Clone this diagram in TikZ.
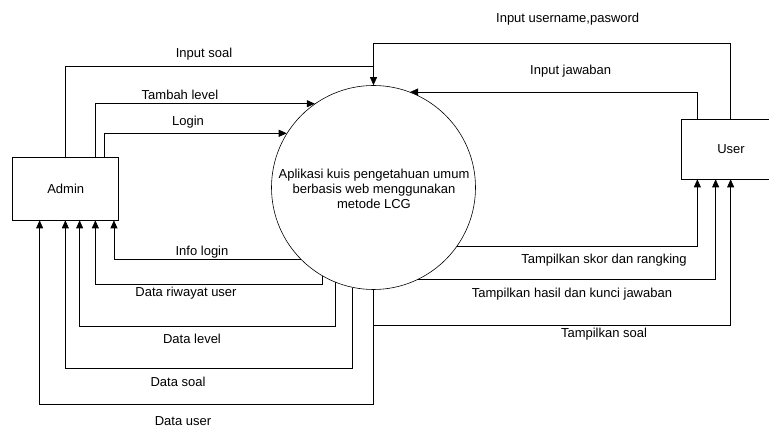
\documentclass[tikz,border=0pt]{standalone}
\usepackage{fontspec}
\setmainfont{Liberation Sans}
\usetikzlibrary{arrows.meta}
\begin{document}
\begin{tikzpicture}[x=1pt,y=-1pt,
  every node/.style={font=\fontsize{13}{15}\selectfont},
  arr/.style={draw,line width=0.7pt,-{Triangle[length=8pt,width=7pt]}},
  ln/.style={draw,line width=0.7pt},
  ent/.style={draw,line width=0.7pt,rectangle,inner sep=0pt},
  lbl/.style={inner sep=1pt}]
\useasboundingbox (0,0) rectangle (769,430);
\node[ent,minimum width=106pt,minimum height=63pt] (Admin) at (65.7,188.5) {Admin};
\node[ent,minimum width=100pt,minimum height=60pt] (User) at (731,149) {User};
\node[draw,circle,line width=0.6pt,minimum size=204pt,inner sep=0pt] (P) at (373.5,187.5) {};
\node[align=center] (Ptxt) at (374,189) {Aplikasi kuis pengetahuan umum\\berbasis web menggunakan\\metode LCG};
% inputs
\draw[ln] ([xshift=53pt]Admin.north west) |- (P.north |- 0,66.7);
\draw[arr] ([xshift=50pt]User.north west) |- (P.north |- 0,43.3) -- (P.north);
\draw[arr] ([xshift=83pt]Admin.north west) |- (P.125);
\draw[arr] ([xshift=92.3pt]Admin.north west) |- (P.148);
\draw[arr] ([xshift=16.7pt]User.north west) |- (P.69);
% outputs to Admin
\draw[arr] (P.225) -| ([xshift=101.6pt]Admin.south west);
\draw[arr] (P.240) -- (P.240 |- 0,284.3) -| ([xshift=83pt]Admin.south west);
\draw[arr] (P.248) -- (P.248 |- 0,326) -| ([xshift=67.3pt]Admin.south west);
\draw[arr] (P.258) -- (P.258 |- 0,368) -| ([xshift=53pt]Admin.south west);
\draw[arr] (P.south) -- (P.south |- 0,404) -| ([xshift=27.3pt]Admin.south west);
% outputs to User
\coordinate (br) at (P.south |- 0,325);
\draw[arr] (br) -| ([xshift=50pt]User.south west);
\draw[arr] (P.325) -| ([xshift=16.7pt]User.south west);
\draw[arr] (P.296) -| ([xshift=35pt]User.south west);
% labels
\node[lbl] (l1) at (567.7,19) {Input username,pasword};
\node[lbl] (l2) at (204,54) {Input soal};
\node[lbl] (l3) at (570.7,70.7) {Input jawaban};
\node[lbl] (l4) at (180,95) {Tambah level};
\node[lbl] (l5) at (188,122) {Login};
\node[lbl,fill=white] (l6) at (202,251.7) {Info login};
\node[lbl] (l7) at (186,293) {Data riwayat user};
\node[lbl] (l8) at (192,339) {Data level};
\node[lbl] (l9) at (178,381.7) {Data soal};
\node[lbl] (l10) at (183,421) {Data user};
\node[lbl] (l11) at (604,260) {Tampilkan skor dan rangking};
\node[lbl] (l12) at (572,294) {Tampilkan hasil dan kunci jawaban};
\node[lbl] (l13) at (604,334) {Tampilkan soal};
\end{tikzpicture}
\end{document}
